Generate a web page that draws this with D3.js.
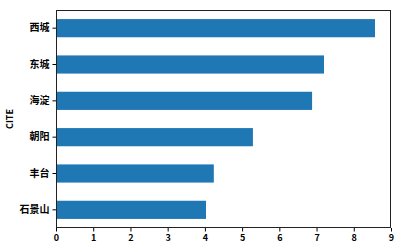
<!DOCTYPE html>
<html>
<head>
<meta charset="utf-8">
<script src="https://cdn.jsdelivr.net/npm/d3@7"></script>
<style>
	body { margin: 0; background: #fff; }
	text { font-family: "Noto Sans CJK SC", "DejaVu Sans", sans-serif; font-weight: bold; fill: #000; }
</style>
</head>
<body>
<div id="chart"></div>
<script>
// data
var districts = ['西城', '东城', '海淀', '朝阳', '丰台', '石景山'];
var values = [8.57, 7.2, 6.88, 5.29, 4.24, 4.03];
var xTicks = [0, 1, 2, 3, 4, 5, 6, 7, 8, 9];
var yLabel = 'CITE';

(function () {
	var width = 401;
	var height = 250;
	var margin = {
		top: 10,
		right: 10,
		bottom: 22,
		left: 56
	};
	var barColor = '#1f77b4';

	var svg = d3.select('#chart')
		.append('svg')
		.attr('width', width).attr('height', height);

	var x = d3.scaleLinear()
		.domain([0, 9])
		.range([margin.left, width - margin.right]);

	var y = d3.scaleBand()
		.domain(districts)
		.range([margin.top, height - margin.bottom])
		.paddingInner(0.5)
		.paddingOuter(0.25);

	var data = districts.map((d, i) => ({ name: d, value: values[i] }));

	// bars
	svg.append('g').selectAll('rect')
		.data(data)
		.enter().append('rect')
		.attr('x', x(0))
		.attr('y', d => y(d.name))
		.attr('width', d => x(d.value) - x(0))
		.attr('height', y.bandwidth())
		.attr('fill', barColor);

	// frame
	svg.append('rect')
		.attr('x', x(0) + 0.5)
		.attr('y', margin.top + 0.5)
		.attr('width', x(9) - x(0) - 1)
		.attr('height', height - margin.bottom - margin.top - 1)
		.attr('fill', 'none')
		.attr('stroke', '#222')
		.attr('stroke-width', 1);

	// axes
	var xAxis = svg.append('g')
		.attr('transform', 'translate(0,' + (height - margin.bottom) + ')')
		.call(d3.axisBottom(x).tickValues(xTicks).tickSize(3.5).tickPadding(3).tickSizeOuter(0));
	xAxis.select('.domain').remove();
	xAxis.selectAll('text').attr('font-size', 9);

	var yAxis = svg.append('g')
		.attr('transform', 'translate(' + margin.left + ',0)')
		.call(d3.axisLeft(y).tickSize(3.5).tickPadding(3).tickSizeOuter(0));
	yAxis.select('.domain').remove();
	yAxis.selectAll('text').attr('font-size', 10);

	svg.selectAll('.tick line').attr('stroke', '#000');

	svg.append('text')
		.attr('transform', 'translate(13,' + (margin.top + (height - margin.bottom - margin.top) / 2) + ') rotate(-90)')
		.attr('text-anchor', 'middle')
		.attr('font-size', 9)
		.text(yLabel);
})();
</script>
</body>
</html>
